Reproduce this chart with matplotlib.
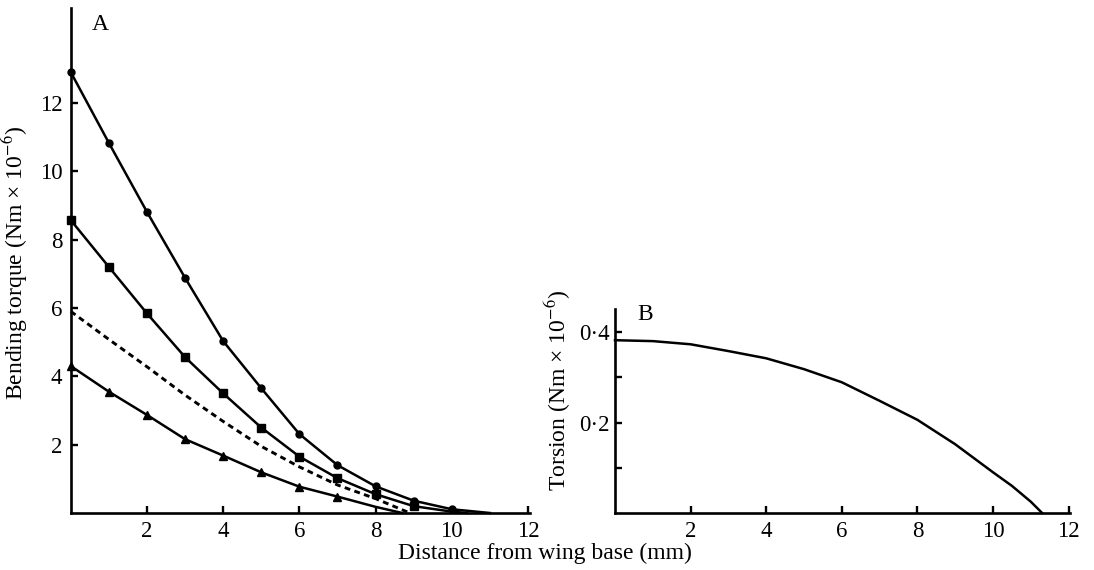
import matplotlib
matplotlib.use("Agg")
import matplotlib.pyplot as plt

plt.rcParams['font.family'] = ['Liberation Serif', 'DejaVu Serif']
plt.rcParams['mathtext.fontset'] = 'stix'

# Panel A data: bending torque (Nm x 10^-6) vs distance from wing base (mm)
circ_x = [0, 1, 2, 3, 4, 5, 6, 7, 8, 9, 10]
circ_y = [12.9, 10.83, 8.81, 6.88, 5.03, 3.65, 2.31, 1.40, 0.78, 0.36, 0.11]
circ_tail_x = [10, 11]
circ_tail_y = [0.11, 0.0]

sq_x = [0, 1, 2, 3, 4, 5, 6, 7, 8, 9]
sq_y = [8.57, 7.2, 5.84, 4.56, 3.50, 2.50, 1.65, 1.02, 0.55, 0.20]
sq_tail_x = [9, 10, 10.4]
sq_tail_y = [0.20, 0.04, 0.0]

dash_x = [0, 1, 2, 3, 4, 5, 6, 7, 8, 8.9]
dash_y = [5.9, 5.08, 4.28, 3.45, 2.68, 1.95, 1.35, 0.82, 0.42, 0.0]

tri_x = [0, 1, 2, 3, 4, 5, 6, 7]
tri_y = [4.30, 3.55, 2.87, 2.16, 1.68, 1.19, 0.77, 0.48]
tri_tail_x = [7, 8, 8.7]
tri_tail_y = [0.48, 0.18, 0.0]

# Panel B data: torsion (Nm x 10^-6)
tor_x = [0, 1, 2, 3, 4, 5, 6, 7, 8, 9, 10, 10.5, 11, 11.3]
tor_y = [0.382, 0.380, 0.373, 0.358, 0.342, 0.318, 0.289, 0.248, 0.206, 0.152, 0.090, 0.060, 0.025, 0.0]

xticks = [2, 4, 6, 8, 10, 12]
a_yticks = [2, 4, 6, 8, 10, 12]
b_yticks = [0.1, 0.2, 0.3, 0.4]
b_yticklabels = ['', '0·2', '', '0·4']

W, H = 1094, 570
fig = plt.figure(figsize=(W / 100, H / 100), dpi=100)

def px_axes(left, right, top, bottom):
    return fig.add_axes([left / W, 1 - bottom / H, (right - left) / W, (bottom - top) / H])

axA = px_axes(70.8, 70.8 + 38.1 * 12.05, 8, 513)
axB = px_axes(615, 615 + 37.8 * 12.05, 309, 513)

for ax in (axA, axB):
    for s in ('top', 'right'):
        ax.spines[s].set_visible(False)
    for s in ('left', 'bottom'):
        ax.spines[s].set_linewidth(1.9)
    ax.tick_params(direction='in', length=5, width=1.7, labelsize=16.5, pad=6)
    ax.set_xticks(xticks)
    ax.set_xticklabels([str(t) for t in xticks])

lw = 1.8
axA.plot(circ_x, circ_y, '-', color='black', lw=lw, marker='o', ms=5, clip_on=False)
axA.plot(circ_tail_x, circ_tail_y, '-', color='black', lw=lw, clip_on=False)
axA.plot(sq_x, sq_y, '-', color='black', lw=lw, marker='s', ms=6, clip_on=False)
axA.plot(sq_tail_x, sq_tail_y, '-', color='black', lw=lw, clip_on=False)
axA.plot(dash_x, dash_y, color='black', lw=2.1, linestyle=(0, (2.0, 1.5)), clip_on=False)
axA.plot(tri_x, tri_y, '-', color='black', lw=lw, marker='^', ms=6, clip_on=False)
axA.plot(tri_tail_x, tri_tail_y, '-', color='black', lw=lw, clip_on=False)

axA.set_xlim(0, 12.05)
axA.set_ylim(0, 14.78)
axA.set_yticks(a_yticks)
axA.set_yticklabels([str(t) for t in a_yticks])
axA.text(0.045, 0.988, 'A', transform=axA.transAxes, fontsize=17, ha='left', va='top')
axA.set_ylabel('Bending torque (Nm × 10$^{-6}$)', fontsize=17)
axA.yaxis.set_label_coords(-0.088, 0.495)

axB.plot(tor_x, tor_y, '-', color='black', lw=lw, clip_on=False)
axB.set_xlim(0, 12.05)
axB.set_ylim(0, 0.451)
axB.set_yticks(b_yticks)
axB.set_yticklabels(b_yticklabels)
axB.tick_params(axis='y', pad=4)
axB.text(0.05, 1.025, 'B', transform=axB.transAxes, fontsize=17, ha='left', va='top')
axB.set_ylabel('Torsion (Nm × 10$^{-6}$)', fontsize=17)
axB.yaxis.set_label_coords(-0.093, 0.60)

fig.text(545 / W, 1 - 553 / H, 'Distance from wing base (mm)', fontsize=17, ha='center', va='center')

fig.savefig('out.png', dpi=100)
